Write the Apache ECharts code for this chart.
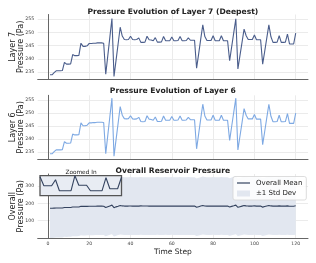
<!DOCTYPE html>
<html><head><meta charset="utf-8">
<script src="https://cdn.jsdelivr.net/npm/echarts@6/dist/echarts.min.js"></script>
<style>html,body{margin:0;padding:0;background:#fff}#c{width:316px;height:263px}</style>
</head><body><div id="c"></div>
<script>
const steps = Array.from({length: 120}, (_, i) => i + 1);
const layer7 = [
 234.0,234.0,234.8,235.5,235.5,235.5,235.6,238.7,238.0,238.0,
 238.1,241.6,241.2,241.2,241.3,245.9,244.7,244.7,244.9,245.8,
 245.8,245.9,245.9,246.0,246.0,246.0,245.9,234.2,241.2,248.2,
 255.2,233.4,239.5,245.7,251.9,248.6,247.3,247.2,247.3,248.5,
 247.3,247.2,247.3,247.9,246.2,246.2,246.3,248.5,247.2,247.1,
 246.8,248.0,246.3,246.3,246.4,248.4,246.8,246.8,246.8,248.2,
 246.8,246.8,246.9,248.4,246.8,246.8,246.9,247.9,247.0,247.0,
 247.0,236.5,241.9,247.4,252.8,248.4,246.9,246.9,246.9,248.7,
 246.8,246.8,246.8,248.7,246.8,246.8,246.8,239.3,244.6,249.9,
 255.1,236.2,241.2,246.2,251.2,248.7,247.3,247.3,247.3,249.0,
 247.2,247.2,247.2,238.0,242.9,247.9,252.8,248.3,246.2,246.2,
 246.3,248.7,246.2,246.2,246.3,249.3,245.6,245.6,245.6,249.7];
const layer6 = [
 234.4,234.4,235.2,235.9,235.9,235.9,236.0,239.0,238.4,238.4,
 238.5,241.9,241.6,241.6,241.7,246.2,245.1,245.1,245.3,246.2,
 246.2,246.3,246.3,246.4,246.4,246.4,246.3,234.4,241.5,248.6,
 255.6,233.5,239.8,246.1,252.4,249.1,247.8,247.7,247.8,248.9,
 247.7,247.6,247.7,248.3,246.7,246.6,246.7,248.9,247.6,247.5,
 247.2,248.4,246.7,246.7,246.8,248.8,247.2,247.2,247.2,248.6,
 247.2,247.2,247.3,248.8,247.2,247.2,247.3,248.3,247.4,247.4,
 247.4,236.3,242.0,247.7,253.3,248.8,247.3,247.3,247.3,249.1,
 247.2,247.2,247.2,249.1,247.2,247.2,247.2,239.5,244.9,250.3,
 255.6,235.9,241.1,246.3,251.6,249.1,247.7,247.7,247.7,249.4,
 247.6,247.6,247.6,237.9,243.0,248.2,253.3,248.7,246.6,246.6,
 246.7,249.1,246.6,246.6,246.7,249.7,246.0,246.0,246.0,249.9];
const overallMean = [
 171.5,171.5,172.3,173.0,173.0,173.0,173.1,176.2,175.5,175.5,
 175.6,179.1,178.7,178.7,178.8,183.4,182.2,182.2,182.4,183.3,
 183.3,183.4,183.4,183.5,183.5,183.5,183.4,176.0,180.5,185.0,
 189.5,175.0,179.5,183.6,187.8,184.9,184.0,184.0,184.0,184.6,
 183.5,183.5,183.5,183.5,185.0,184.05,184.05,184.05,183.5,183.5,
 183.5,183.5,184.8,183.7,183.7,183.7,184.85,183.9,183.9,184.6,
 183.8,183.8,183.8,184.6,183.8,183.8,183.8,184.4,183.9,183.9,
 183.9,177.0,180.5,184.0,187.5,184.8,183.9,183.9,183.9,184.8,
 183.8,183.8,183.8,184.8,183.8,183.8,183.8,178.8,182.4,185.8,
 189.3,176.9,180.3,183.6,186.8,185.0,184.0,184.0,184.0,185.0,
 183.9,183.9,183.9,177.9,181.2,184.5,187.7,184.9,183.6,183.6,
 183.6,185.0,183.6,183.6,183.6,185.3,183.2,183.2,183.2,185.5];
const overallStd = [
 170.5,170.2,169.8,169.5,169.3,169.0,168.8,168.5,168.3,168.0,
 167.8,167.6,167.4,167.2,167.0,166.8,166.6,166.5,166.4,166.3,
 166.2,166.1,166.0,166.0,165.9,165.9,165.8,165.2,165.6,166.0,
 166.5,165.0,165.5,165.9,166.3,166.0,165.8,165.8,165.8,166.0,
 165.7,165.7,165.7,165.7,166.1,165.8,165.8,165.8,165.6,165.6,
 165.6,165.6,166.0,165.7,165.7,165.7,166.0,165.8,165.8,165.8,
 165.8,165.8,165.8,166.0,165.8,165.8,165.8,165.9,165.8,165.8,
 165.8,165.0,165.4,165.8,166.3,166.0,165.8,165.8,165.8,166.0,
 165.8,165.8,165.8,166.0,165.8,165.8,165.8,165.2,165.6,166.0,
 166.5,165.0,165.4,165.8,166.2,166.0,165.8,165.8,165.8,166.0,
 165.8,165.8,165.8,165.1,165.5,165.9,166.3,166.0,165.7,165.7,
 165.7,166.0,165.7,165.7,165.7,166.0,165.6,165.6,165.6,166.0];
const xTicks = [0, 20, 40, 60, 80, 100, 120];
const layerTicks = [235, 240, 245, 250, 255];
const overallTicks = [100, 200, 300];
const insetRange = [36, 57];
const insetYRange = [183.0, 185.0];
const titles = ['Pressure Evolution of Layer 7 (Deepest)', 'Pressure Evolution of Layer 6', 'Overall Reservoir Pressure'];
const yNames = ['Layer 7\nPressure (Pa)', 'Layer 6\nPressure (Pa)', 'Overall\nPressure (Pa)'];
const xName = 'Time Step';
const legendNames = ['Overall Mean', '±1 Std Dev'];
const insetLabel = 'Zoomed In';

const FONT = 'DejaVu Sans';
const BAND = '#e2e7f0';
const pair = arr => steps.map((s, i) => [s, arr[i]]);
const bandData = steps.map((s, i) => [s, overallMean[i] - overallStd[i], overallMean[i] + overallStd[i]]);
const insetData = pair(overallMean).filter(p => p[0] >= insetRange[0] && p[0] <= insetRange[1]);

const grids = [
  {left: 37.7, right: 8, top: 14.5, height: 64.8},
  {left: 37.7, right: 8, top: 95.3, height: 64},
  {left: 37.7, right: 8, top: 174, height: 64.5},
  {left: 40, top: 175.7, width: 81.5, height: 20, show: true, borderColor: '#555', borderWidth: 1.3, backgroundColor: '#e8ecf3', z: 5}
].map(g => Object.assign({containLabel: false, outerBoundsMode: 'none'}, g));
const axisLine = {show: true, lineStyle: {color: '#666', width: 1}};
const splitLine = {show: true, lineStyle: {color: '#ebebeb', width: 1}};
function xAx(idx, labels) {
  return {type: 'value', gridIndex: idx, min: -4.95, max: 125.95,
    axisLine, axisTick: {show: false, customValues: xTicks}, splitLine,
    axisLabel: {show: labels, customValues: xTicks, fontSize: 4.6, color: '#444', margin: 2.5, fontFamily: FONT},
    name: labels ? xName : '', nameLocation: 'middle', nameGap: 9.5, nameMoveOverlap: false,
    nameTextStyle: {fontSize: 7.5, color: '#222', fontFamily: FONT}};
}
function yAx(idx, min, max, ticks, name) {
  return {type: 'value', gridIndex: idx, min, max,
    axisLine, axisTick: {show: false, customValues: ticks}, splitLine,
    axisLabel: {customValues: ticks, fontSize: 4.7, color: '#444', margin: 3.5, fontFamily: FONT},
    name, nameLocation: 'middle', nameRotate: 90, nameGap: 12.5, nameMoveOverlap: false,
    nameTextStyle: {fontSize: 8, lineHeight: 8, color: '#222', fontFamily: FONT, align: 'center', verticalAlign: 'bottom'}};
}
const titleStyle = {fontSize: 7.6, fontWeight: 'bold', color: '#222', fontFamily: FONT};
const plotCenter = 37.7 + (316 - 8 - 37.7) / 2;

const option = {
  animation: false,
  backgroundColor: '#fff',
  title: [
    {text: titles[0], left: plotCenter, textAlign: 'center', top: 8.5, textStyle: titleStyle, padding: 0},
    {text: titles[1], left: plotCenter, textAlign: 'center', top: 87, textStyle: titleStyle, padding: 0},
    {text: titles[2], left: plotCenter, textAlign: 'center', top: 167, textStyle: titleStyle, padding: 0},
    {text: insetLabel, left: 81, textAlign: 'center', top: 169.5, padding: 0,
      textStyle: {fontSize: 5.8, fontWeight: 'normal', color: '#222', fontFamily: FONT}}
  ],
  grid: grids,
  xAxis: [xAx(0, false), xAx(1, false), xAx(2, true),
    {type: 'value', gridIndex: 3, min: insetRange[0], max: insetRange[1], show: false}],
  yAxis: [yAx(0, 232.3, 256.7, layerTicks, yNames[0]), yAx(1, 232.3, 256.7, layerTicks, yNames[1]),
    yAx(2, -2, 368, overallTicks, yNames[2]),
    {type: 'value', gridIndex: 3, min: insetYRange[0], max: insetYRange[1], show: false}],
  legend: {
    orient: 'vertical', left: 233, top: 176.5, itemWidth: 13, itemHeight: 6, itemGap: 3.5,
    padding: [3, 4, 3, 4], borderColor: '#d4d4d4', borderWidth: 0.8, borderRadius: 2,
    backgroundColor: 'rgba(255,255,255,0.85)',
    textStyle: {fontSize: 7, color: '#222', fontFamily: FONT, padding: [0, 0, 0, 1]},
    data: [{name: legendNames[0], icon: 'path://M0,0h26v2.4h-26z', itemStyle: {color: '#34435f'}},
           {name: legendNames[1], icon: 'rect', itemStyle: {color: BAND}}]
  },
  series: [
    {type: 'line', xAxisIndex: 0, yAxisIndex: 0, data: pair(layer7), showSymbol: false, symbol: 'none',
      lineStyle: {color: '#4b5e8c', width: 1.1}, color: '#4b5e8c'},
    {type: 'line', xAxisIndex: 1, yAxisIndex: 1, data: pair(layer6), showSymbol: false, symbol: 'none',
      lineStyle: {color: '#7ea9e3', width: 1.1}, color: '#7ea9e3'},
    {type: 'custom', name: legendNames[1], xAxisIndex: 2, yAxisIndex: 2, data: bandData, color: BAND,
      itemStyle: {color: BAND}, silent: true, z: 1,
      encode: {x: 0, y: [1, 2]},
      renderItem: function (params, api) {
        if (params.dataIndex !== 0) return null;
        const up = [], lo = [];
        for (let i = 0; i < bandData.length; i++) {
          up.push(api.coord([bandData[i][0], bandData[i][2]]));
          lo.push(api.coord([bandData[i][0], bandData[i][1]]));
        }
        return {type: 'polygon', shape: {points: up.concat(lo.reverse())}, style: {fill: BAND}};
      }},
    {type: 'line', name: legendNames[0], xAxisIndex: 2, yAxisIndex: 2, data: pair(overallMean), symbol: 'none',
      showSymbol: false, lineStyle: {color: '#34435f', width: 1.1}, color: '#34435f', z: 3},
    {type: 'line', xAxisIndex: 3, yAxisIndex: 3, data: insetData, symbol: 'none', clip: true,
      lineStyle: {color: '#34435f', width: 1.1}, color: '#34435f', z: 6}
  ]
};
const chart = echarts.init(document.getElementById('c'), null, {renderer: 'canvas'});
chart.setOption(option);
</script></body></html>
